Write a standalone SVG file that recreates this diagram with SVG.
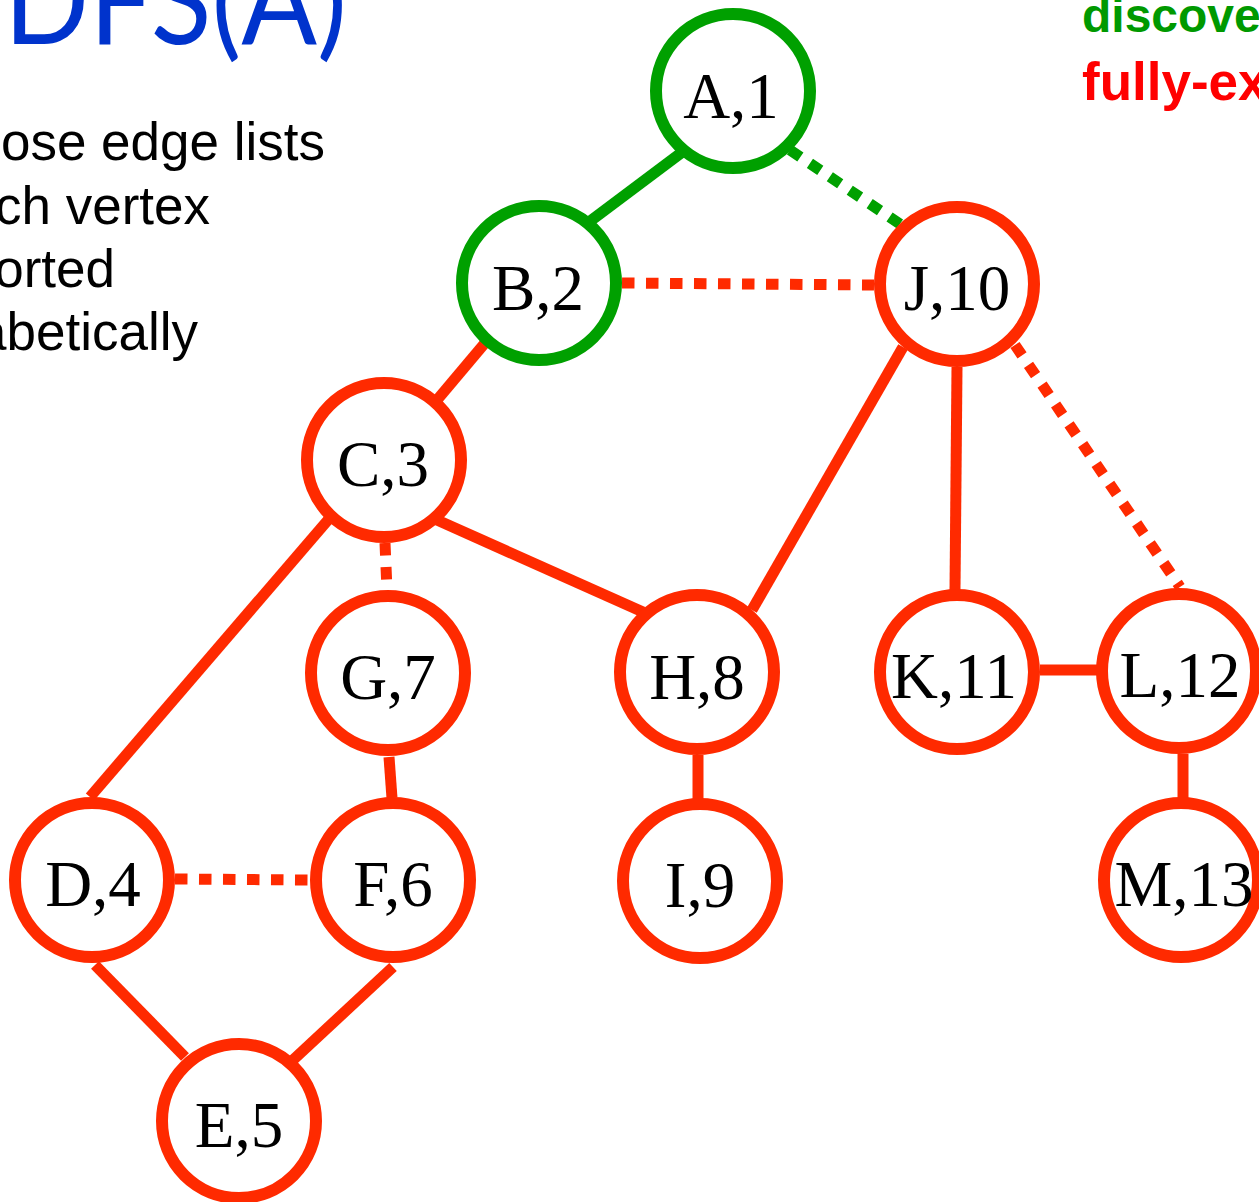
<svg xmlns="http://www.w3.org/2000/svg" width="1259" height="1202" viewBox="0 0 1259 1202">
<style>
.bg{fill:#ffffff}
.edge{stroke-width:11;fill:none;stroke-linecap:butt}
.red{stroke:#ff2a00}
.green{stroke:#00a000}
.dot{stroke-dasharray:12.5 11.5}
.node circle{fill:#ffffff;stroke-width:12}
.node.r circle{stroke:#ff2a00}
.node.g circle{stroke:#00a000}
.node text{font-family:"Liberation Serif","Times New Roman",serif;font-size:65px;fill:#000000;text-anchor:middle}
.body{font-family:"Liberation Sans",Arial,sans-serif;font-size:53px;fill:#000000;text-anchor:end}
.legend{font-family:"Liberation Sans",Arial,sans-serif;font-weight:bold}
</style>
<rect class="bg" x="0" y="0" width="1259" height="1202"/>
<g id="title">
<text x="4" y="44" font-family="Lato,'Liberation Sans',sans-serif" font-size="124" fill="#0033cc" textLength="343" lengthAdjust="spacingAndGlyphs">DFS(A)</text>
</g>
<g id="description">
<text class="body" x="325" y="160">ose edge lists</text>
<text class="body" x="210" y="224">ch vertex</text>
<text class="body" x="115" y="287">orted</text>
<text class="body" x="198" y="350">abetically</text>
</g>
<g id="legend">
<text class="legend" x="1082" y="32" font-size="48" fill="#009900">discove</text>
<text class="legend" x="1082" y="100" font-size="53" fill="#ff0000">fully-ex</text>
</g>
<g id="connectors">
<line class="edge green" x1="681" y1="153" x2="589" y2="222"/>
<line class="edge green dot" x1="790" y1="150" x2="900" y2="224"/>
<line class="edge red dot" x1="622" y1="283" x2="874" y2="285"/>
<line class="edge red" x1="485" y1="343" x2="437" y2="400"/>
<line class="edge red" x1="328" y1="520" x2="90" y2="797"/>
<line class="edge red dot" x1="385" y1="543" x2="387" y2="590"/>
<line class="edge red" x1="437" y1="520" x2="643" y2="612"/>
<line class="edge red" x1="903" y1="347" x2="752" y2="610"/>
<line class="edge red" x1="957" y1="367" x2="955" y2="590"/>
<line class="edge red dot" x1="1015" y1="345" x2="1180" y2="587"/>
<line class="edge red" x1="1040" y1="670" x2="1099" y2="670"/>
<line class="edge red" x1="1183" y1="754" x2="1183" y2="798"/>
<line class="edge red" x1="389" y1="757" x2="392" y2="798"/>
<line class="edge red dot" x1="175" y1="879" x2="308" y2="880"/>
<line class="edge red" x1="95" y1="965" x2="185" y2="1057"/>
<line class="edge red" x1="393" y1="967" x2="293" y2="1060"/>
<line class="edge red" x1="698" y1="755" x2="698" y2="800"/>
</g>
<g id="node-A" class="node g"><circle cx="733" cy="91" r="77"/><text x="731" y="118">A,1</text></g>
<g id="node-B" class="node g"><circle cx="539" cy="283" r="77"/><text x="538" y="310">B,2</text></g>
<g id="node-J" class="node r"><circle cx="957" cy="284" r="77"/><text x="957" y="310">J,10</text></g>
<g id="node-C" class="node r"><circle cx="384" cy="460" r="77"/><text x="383" y="486">C,3</text></g>
<g id="node-G" class="node r"><circle cx="388" cy="673" r="77"/><text x="388" y="699">G,7</text></g>
<g id="node-H" class="node r"><circle cx="697" cy="672" r="77"/><text x="697" y="699">H,8</text></g>
<g id="node-K" class="node r"><circle cx="957" cy="672" r="77"/><text x="954" y="698">K,11</text></g>
<g id="node-L" class="node r"><circle cx="1179" cy="671" r="77"/><text x="1180" y="697">L,12</text></g>
<g id="node-D" class="node r"><circle cx="92" cy="880" r="77"/><text x="93" y="906">D,4</text></g>
<g id="node-F" class="node r"><circle cx="393" cy="880" r="77"/><text x="393" y="906">F,6</text></g>
<g id="node-I" class="node r"><circle cx="700" cy="881" r="77"/><text x="700" y="907">I,9</text></g>
<g id="node-M" class="node r"><circle cx="1181" cy="880" r="77"/><text x="1184" y="906">M,13</text></g>
<g id="node-E" class="node r"><circle cx="239" cy="1121" r="77"/><text x="239" y="1147">E,5</text></g>
</svg>
